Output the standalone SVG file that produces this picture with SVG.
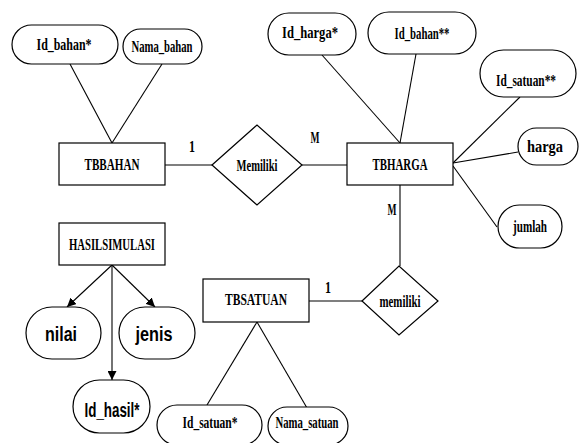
<svg xmlns="http://www.w3.org/2000/svg" width="579" height="443" viewBox="0 0 579 443">
<style>
.s{fill:#fff;stroke:#000;stroke-width:1.2}
.l{stroke:#000;stroke-width:1.1;fill:none}
.t{font-family:"Liberation Serif",serif;font-weight:bold;font-size:16px;fill:#000;text-anchor:middle}
.u{font-family:"Liberation Sans",sans-serif;font-weight:bold;font-size:20px;fill:#000;text-anchor:middle}
</style>
<defs>
<marker id="ah" viewBox="0 0 10 10" refX="10" refY="5" markerWidth="9" markerHeight="9" markerUnits="userSpaceOnUse" orient="auto">
<path d="M0,0L10,5L0,10z" fill="#000"/>
</marker>
</defs>
<g id="connectors">
<line class="l" x1="70" y1="64" x2="112" y2="143"/>
<line class="l" x1="162" y1="64" x2="112" y2="143"/>
<line class="l" x1="165" y1="165" x2="212" y2="165"/>
<line class="l" x1="302" y1="165" x2="347" y2="165"/>
<line class="l" x1="322" y1="55" x2="400" y2="143"/>
<line class="l" x1="416" y1="54" x2="400" y2="143"/>
<line class="l" x1="520" y1="97" x2="453" y2="163"/>
<line class="l" x1="518" y1="152" x2="453" y2="163"/>
<line class="l" x1="497" y1="227" x2="453" y2="166"/>
<line class="l" x1="400" y1="185" x2="400" y2="266"/>
<line class="l" x1="309" y1="301" x2="362" y2="301"/>
<line class="l" x1="257" y1="322" x2="207" y2="405"/>
<line class="l" x1="257" y1="322" x2="307" y2="408"/>
<line class="l" x1="112" y1="265" x2="67" y2="307" marker-end="url(#ah)"/>
<line class="l" x1="112" y1="265" x2="155" y2="307" marker-end="url(#ah)"/>
<line class="l" x1="112" y1="265" x2="112" y2="380" marker-end="url(#ah)"/>
<text class="t" x="192" y="152" textLength="6" lengthAdjust="spacingAndGlyphs">1</text>
<text class="t" x="315" y="143" textLength="9" lengthAdjust="spacingAndGlyphs">M</text>
<text class="t" x="392" y="215" textLength="9" lengthAdjust="spacingAndGlyphs">M</text>
<text class="t" x="328" y="293" textLength="6" lengthAdjust="spacingAndGlyphs">1</text>
</g>
<g id="TBBAHAN"><rect class="s" x="59" y="143" width="106" height="42"/><text class="t" x="112" y="170" textLength="55" lengthAdjust="spacingAndGlyphs">TBBAHAN</text></g>
<g id="Id_bahan"><rect class="s" x="12" y="25" width="106" height="39" rx="19.5"/><text class="t" x="64" y="50" textLength="55" lengthAdjust="spacingAndGlyphs">Id_bahan*</text></g>
<g id="Nama_bahan"><rect class="s" x="123" y="29" width="79" height="35" rx="17.5"/><text class="t" x="162" y="52" textLength="61" lengthAdjust="spacingAndGlyphs">Nama_bahan</text></g>
<g id="Memiliki"><polygon class="s" points="212,165 257,125 302,165 257,205"/><text class="t" x="257" y="171" textLength="41" lengthAdjust="spacingAndGlyphs">Memiliki</text></g>
<g id="TBHARGA"><rect class="s" x="347" y="143" width="106" height="42"/><text class="t" x="400" y="170" textLength="55" lengthAdjust="spacingAndGlyphs">TBHARGA</text></g>
<g id="Id_harga"><rect class="s" x="268" y="13" width="88" height="42" rx="21"/><text class="t" x="310" y="38" textLength="56" lengthAdjust="spacingAndGlyphs">Id_harga*</text></g>
<g id="Id_bahan2"><rect class="s" x="368" y="12" width="108" height="42" rx="21"/><text class="t" x="422" y="39" textLength="55" lengthAdjust="spacingAndGlyphs">Id_bahan**</text></g>
<g id="Id_satuan2"><rect class="s" x="480" y="50" width="96" height="47" rx="23.5"/><text class="t" x="526" y="86" textLength="60" lengthAdjust="spacingAndGlyphs">Id_satuan**</text></g>
<g id="harga"><rect class="s" x="518" y="128" width="60" height="37" rx="18.5"/><text class="t" x="545" y="152" textLength="36" lengthAdjust="spacingAndGlyphs">harga</text></g>
<g id="jumlah"><rect class="s" x="498" y="205" width="64" height="43" rx="21.5"/><text class="t" x="530" y="232" textLength="34" lengthAdjust="spacingAndGlyphs">jumlah</text></g>
<g id="memiliki"><polygon class="s" points="362,301 399,266 438,301 399,335"/><text class="t" x="400" y="307" textLength="41" lengthAdjust="spacingAndGlyphs">memiliki</text></g>
<g id="TBSATUAN"><rect class="s" x="203" y="279" width="106" height="43"/><text class="t" x="256" y="305" textLength="62" lengthAdjust="spacingAndGlyphs">TBSATUAN</text></g>
<g id="Id_satuan"><rect class="s" x="157" y="405" width="105" height="40" rx="20"/><text class="t" x="210" y="428" textLength="55" lengthAdjust="spacingAndGlyphs">Id_satuan*</text></g>
<g id="Nama_satuan"><rect class="s" x="268" y="407" width="80" height="38" rx="19"/><text class="t" x="307" y="428" textLength="63" lengthAdjust="spacingAndGlyphs">Nama_satuan</text></g>
<g id="HASILSIMULASI"><rect class="s" x="59" y="223" width="106" height="42"/><text class="t" x="112" y="250" textLength="86" lengthAdjust="spacingAndGlyphs">HASILSIMULASI</text></g>
<g id="nilai"><rect class="s" x="26" y="307" width="75" height="52" rx="26"/><text class="u" x="61" y="341" textLength="32" lengthAdjust="spacingAndGlyphs">nilai</text></g>
<g id="jenis"><rect class="s" x="119" y="307" width="76" height="52" rx="26"/><text class="u" x="154" y="341" textLength="37" lengthAdjust="spacingAndGlyphs">jenis</text></g>
<g id="Id_hasil"><rect class="s" x="73" y="380" width="77" height="53" rx="26.5"/><text class="u" x="112" y="417" textLength="55" lengthAdjust="spacingAndGlyphs">Id_hasil*</text></g>
</svg>
